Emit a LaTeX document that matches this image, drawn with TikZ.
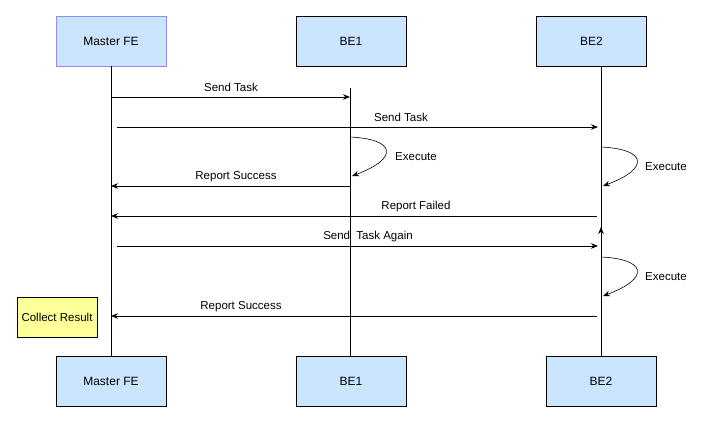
\documentclass[tikz,border=0pt]{standalone}
\usepackage{fontspec}
\setmainfont{Liberation Sans}
\usetikzlibrary{arrows.meta}
\definecolor{boxfill}{HTML}{CCE5FF}
\definecolor{purpleborder}{HTML}{8C8CFF}
\definecolor{yellowfill}{HTML}{FFFF99}
\begin{document}
\begin{tikzpicture}[x=1pt,y=-1pt,
  actor/.style={draw=black,fill=boxfill,line width=0.8pt,minimum width=110pt,minimum height=50pt,inner sep=0pt,font=\fontsize{12}{14}\selectfont},
  lbl/.style={font=\fontsize{11.5}{13}\selectfont,inner sep=0pt},
  life/.style={line width=0.8pt},
  msg/.style={line width=0.8pt,-{Stealth[length=7pt,width=5.5pt]}},
  loopy/.style={line width=0.6pt,-{Stealth[length=7pt,width=5.5pt]}}]
\useasboundingbox (0,0) rectangle (705,423);
% actors
\node[actor,draw=purpleborder] (fe1) at (111,41) {Master FE};
\node[actor] (be1a) at (351,41) {BE1};
\node[actor] (be2a) at (591.5,41) {BE2};
\node[actor] (fe2) at (111,381) {Master FE};
\node[actor] (be1b) at (351,381) {BE1};
\node[actor] (be2b) at (601,381) {BE2};
\node[draw=black,fill=yellowfill,line width=0.8pt,minimum width=80pt,minimum height=40pt,inner sep=0pt,font=\fontsize{11.5}{13}\selectfont] (collect) at (57,317) {Collect Result};
% lifeline coordinates
\coordinate (feT) at (111,66); \coordinate (feB) at (111,356);
\coordinate (b1T) at (350,88); \coordinate (b1B) at (350,356);
\coordinate (b2T) at (601,66); \coordinate (b2B) at (601,356);
\draw[life] (feT) -- (feB);
\draw[life] (b1T) -- (b1B);
\draw[life] (b2T) -- (b2B);
% message endpoints
\coordinate (m1s) at (111,97); \coordinate (m1e) at (350,97);
\coordinate (m2s) at (117,127); \coordinate (m2e) at (598,127);
\coordinate (m3s) at (350,186); \coordinate (m3e) at (111,186);
\coordinate (m4s) at (597,216); \coordinate (m4e) at (111,216);
\coordinate (m5s) at (117,246); \coordinate (m5e) at (598,246);
\coordinate (m6s) at (597,316); \coordinate (m6e) at (111,316);
\coordinate (upS) at (601,242); \coordinate (upE) at (601,227);
\draw[msg] (m1s) -- (m1e);
\draw[msg] (m2s) -- (m2e);
\draw[msg] (m3s) -- (m3e);
\draw[msg] (m4s) -- (m4e);
\draw[msg] (m5s) -- (m5e);
\draw[msg] (m6s) -- (m6e);
\draw[msg] (upS) -- (upE);
% execute loops
\coordinate (x1s) at (350,137); \coordinate (x1e) at (352,176);
\coordinate (x2s) at (601,147); \coordinate (x2e) at (603,186);
\coordinate (x3s) at (601,257); \coordinate (x3e) at (603,296);
\draw[loopy] (x1s) .. controls (395,139) and (400,158) .. (x1e);
\draw[loopy] (x2s) .. controls (646,149) and (651,168) .. (x2e);
\draw[loopy] (x3s) .. controls (646,259) and (651,278) .. (x3e);
% labels
\node[lbl] (l1) at (231,87) {Send Task};
\node[lbl] (l2) at (401,117) {Send Task};
\node[lbl] (l3) at (416,157) {Execute};
\node[lbl] (l4) at (236,177) {Report Success};
\node[lbl] (l5) at (666,167) {Execute};
\node[lbl] (l6) at (416,207) {Report Failed};
\node[lbl] (l7) at (368,237) {Send\ \ Task Again};
\node[lbl] (l8) at (666,277) {Execute};
\node[lbl] (l9) at (241,307) {Report Success};
\end{tikzpicture}
\end{document}
